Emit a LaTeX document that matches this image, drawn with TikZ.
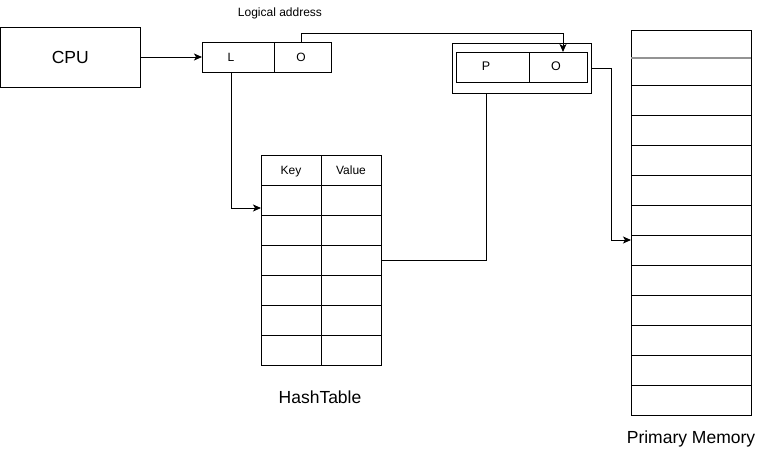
\documentclass[tikz,border=0pt]{standalone}
\usepackage{fontspec}
\setmainfont{Liberation Sans}
\usetikzlibrary{arrows.meta}
\begin{document}
\begin{tikzpicture}[x=1pt,y=-1pt,line width=1pt,
  box/.style={draw,inner sep=0pt,outer sep=0pt,anchor=north west},
  txt/.style={inner sep=0pt,outer sep=0pt,text height=0.716em,text depth=0pt},
  arr/.style={-{Stealth[length=8pt,width=7pt,inset=2pt]}},
  small/.style={font=\fontsize{12}{14}\selectfont},
  big/.style={font=\fontsize{17.5}{20}\selectfont}]
\useasboundingbox (0,0) rectangle (764,455);
% CPU
\node[box,big,minimum width=139.5pt,minimum height=60pt] (cpu) at (0.5,27) {CPU};
% logical address
\node[txt,small] (lbl) at (280,13) {Logical address};
\node[box,minimum width=72pt,minimum height=30pt] (ll) at (202,42) {};
\node[box,minimum width=57pt,minimum height=30pt] (lo) at (274,42) {};
\node[txt,small] (ltxt) at (231,57.5) {L};
\node[txt,small] (otxt) at (301,57.5) {O};
% physical address
\node[box,minimum width=139pt,minimum height=50pt] (outer) at (452,43) {};
\node[box,minimum width=73pt,minimum height=30pt] (pp) at (456,52) {};
\node[box,minimum width=58pt,minimum height=30pt] (po) at (529,52) {};
\node[txt,font=\fontsize{12.5}{14}\selectfont] (ptxt) at (486,67) {P};
\node[txt,font=\fontsize{12.5}{14}\selectfont] (potxt) at (556,67) {O};
% hash table
\foreach \i in {0,...,6}{
  \node[box,minimum width=60pt,minimum height=30pt] (k\i) at (261,155+30*\i) {};
  \node[box,minimum width=60pt,minimum height=30pt] (v\i) at (321,155+30*\i) {};
}
\node[txt,small] (keytxt) at ([yshift=-1pt]k0.center) {Key};
\node[txt,small] (valtxt) at ([yshift=-1pt]v0.center) {Value};
\node[txt,big] (htlbl) at (320,400) {HashTable};
% primary memory
\node[box,minimum width=120pt,minimum height=28pt] (m1) at (631,30) {};
\node[box,minimum width=120pt,minimum height=27pt] (m2) at (631,58) {};
\foreach \i in {3,...,13}{
  \node[box,minimum width=120pt,minimum height=30pt] (m\i) at (631,85+30*\i-90) {};
}
\draw[gray!85,line width=2pt] (m2.north west) -- (m2.north east);
\node[txt,big] (pmlbl) at (691,440) {Primary Memory};
% connectors
\draw[arr] (cpu.east) -- (ll.west);
\draw[arr] (otxt |- lo.north) -- ++(0,-9) -| ([xshift=5pt]po.north);
\draw[arr] (ltxt |- ll.south) |- ([yshift=-8pt]k1.west);
\draw (ptxt |- outer.south) |- (v3.east);
\draw[arr] (outer.east) -- ++(20,0) |- ([yshift=10pt]m8.west);
\end{tikzpicture}
\end{document}
